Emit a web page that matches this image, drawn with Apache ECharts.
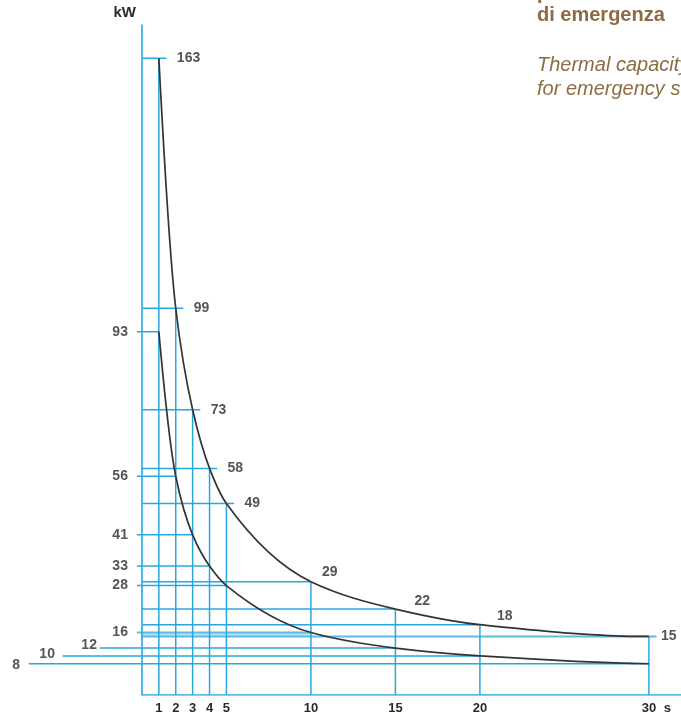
<!DOCTYPE html>
<html>
<head>
<meta charset="utf-8">
<script src="https://cdn.jsdelivr.net/npm/echarts@6/dist/echarts.min.js"></script>
<style>html,body{margin:0;padding:0;background:#fff;}#c{width:681px;height:715px;}</style>
</head>
<body>
<div id="c"></div>
<script>
// ---- data ----
const times = [1, 2, 3, 4, 5, 10, 15, 20, 30];            // s
const upperKW = [163, 99, 73, 58, 49, 29, 22, 18, 15];     // kW, upper curve
const lowerKW = [93, 56, 41, 33, 28, 16, 12, 10, 8];       // kW, lower curve
const xTickLabels = [1, 2, 3, 4, 5, 10, 15, 20, 30];
const titleLines = ['per servizi', 'di emergenza'];
const subtitleLines = ['Thermal capacity', 'for emergency services'];

// ---- style ----
const BLUE = '#27a7df';
const CURVE = '#333333';
const TXT = '#2a2a2a';
const BROWN = '#8d6c44';
const FONT = 'Liberation Sans, Arial, sans-serif';
const X_MIN = -8.4, X_MAX = 31.9;

const chart = echarts.init(document.getElementById('c'), null, {renderer: 'canvas'});

const series = [];
function seg(p1, p2, w, op) {
  series.push({
    type: 'line', data: [p1, p2], symbol: 'none', silent: true,
    lineStyle: {color: BLUE, width: w || 1.5, opacity: op == null ? 1 : op},
    z: 1, animation: false
  });
}
// x base line (from 0)
seg([0, 0], [X_MAX, 0], 1.6);
// guide lines for upper curve
times.forEach((t, i) => {
  const u = upperKW[i];
  const last = i === times.length - 1;
  const ext = (i < 5 || last) ? 0.45 : 0;
  seg([0, u], [t + ext, u], last ? 2 : 1.5, last ? 0.75 : 1);
  seg([t, 0], [t, u]);
});
// guide lines for lower curve
const lowerStart = [-0.3, -0.3, -0.3, -0.3, -0.3, -0.3, -2.5, -4.7, -6.7];
times.forEach((t, i) => {
  const l = lowerKW[i];
  seg([lowerStart[i], l], [t, l], i === 5 ? 2 : 1.5, i === 5 ? 0.75 : 1);
});
// light band between the 15/16 lines
seg([0, 15.5], [10, 15.5], 3, 0.3);

// smooth monotone (Fritsch-Carlson) curve through the data points, drawn in pixel space
function curveSeries(arr) {
  return {
    type: 'custom', silent: true, z: 5, animation: false,
    data: times.map((t, i) => [t, arr[i]]),
    renderItem: function (params, api) {
      if (params.dataIndex !== 0) return null;
      const P = times.map((t, i) => api.coord([t, arr[i]]));
      const n = P.length;
      const h = [], d = [];
      for (let i = 0; i < n - 1; i++) {
        h.push(P[i + 1][0] - P[i][0]);
        d.push((P[i + 1][1] - P[i][1]) / h[i]);
      }
      const m = new Array(n);
      for (let i = 1; i < n - 1; i++) {
        if (d[i - 1] * d[i] <= 0) m[i] = 0;
        else {
          const w1 = 2 * h[i] + h[i - 1], w2 = h[i] + 2 * h[i - 1];
          m[i] = (w1 + w2) / (w1 / d[i - 1] + w2 / d[i]);
        }
      }
      function endSlope(h0, h1, d0, d1) {
        let s = ((2 * h0 + h1) * d0 - h0 * d1) / (h0 + h1);
        if (s * d0 <= 0) s = 0;
        else if (d0 * d1 <= 0 && Math.abs(s) > Math.abs(3 * d0)) s = 3 * d0;
        return s;
      }
      m[0] = endSlope(h[0], h[1], d[0], d[1]);
      m[n - 1] = endSlope(h[n - 2], h[n - 3], d[n - 2], d[n - 3]);
      const children = [];
      for (let i = 0; i < n - 1; i++) {
        const dx = h[i] / 3;
        children.push({
          type: 'bezierCurve',
          shape: {
            x1: P[i][0], y1: P[i][1], x2: P[i + 1][0], y2: P[i + 1][1],
            cpx1: P[i][0] + dx, cpy1: P[i][1] + m[i] * dx,
            cpx2: P[i + 1][0] - dx, cpy2: P[i + 1][1] - m[i + 1] * dx
          },
          style: {stroke: CURVE, lineWidth: 1.7, fill: null}
        });
      }
      return {type: 'group', children: children};
    }
  };
}
series.push(curveSeries(upperKW));
series.push(curveSeries(lowerKW));

// value labels
const lab = {fontFamily: FONT, fontSize: 14, fontWeight: 'bold', color: TXT};
const upLabels = times.map((t, i) => {
  let label;
  if (i < 5) label = {position: 'right', distance: 18};
  else if (i === 5) label = {position: 'right', distance: 0, offset: [11, -10]};
  else if (i === 6) label = {position: 'right', distance: 0, offset: [19, -8]};
  else if (i === 7) label = {position: 'right', distance: 0, offset: [17, -9]};
  else label = {position: 'right', distance: 12};
  return {value: [t, upperKW[i]], name: String(upperKW[i]), label: label};
});
const lowDist = [14, 14, 14, 14, 14, 14, 45, 87, 122];
const lowOff = [0, 0, 0, 0, 0, 0, -3, -2, 1];
const lowLabels = lowerKW.map((l, i) => ({
  value: [0, l], name: String(l),
  label: {position: 'left', distance: lowDist[i], offset: [0, lowOff[i]]}
}));
series.push({
  type: 'scatter', symbolSize: 0, silent: true, z: 10, animation: false,
  data: upLabels.concat(lowLabels),
  label: Object.assign({show: true, formatter: p => p.name}, lab)
});

chart.setOption({
  animation: false,
  grid: {left: 0, right: 0, top: 25, bottom: 18},
  xAxis: {
    type: 'value', min: X_MIN, max: X_MAX,
    axisLine: {show: false},
    axisTick: {show: false}, splitLine: {show: false},
    axisLabel: {
      customValues: xTickLabels.concat([31.1]),
      formatter: v => (v > 30.5 ? 's' : String(v)),
      margin: 7, fontFamily: FONT, fontSize: 13, fontWeight: 'bold', color: TXT
    }
  },
  yAxis: {
    type: 'value', min: 0, max: 171.5,
    axisLine: {show: true, onZero: true, lineStyle: {color: BLUE, width: 1.6}},
    axisTick: {show: false}, splitLine: {show: false}, axisLabel: {show: false},
    name: 'kW', nameLocation: 'end', nameGap: 5,
    nameTextStyle: {fontFamily: FONT, fontSize: 15, fontWeight: 'bold', color: TXT, align: 'right', padding: [0, 6, 0, 0]}
  },
  graphic: [
    {type: 'text', left: 537, top: -17, style: {text: titleLines[0], font: 'bold 20px ' + FONT, fill: BROWN}},
    {type: 'text', left: 537, top: 5, style: {text: titleLines[1], font: 'bold 20px ' + FONT, fill: BROWN}},
    {type: 'text', left: 537, top: 55, style: {text: subtitleLines[0], font: 'italic 20px ' + FONT, fill: BROWN}},
    {type: 'text', left: 537, top: 79, style: {text: subtitleLines[1], font: 'italic 20px ' + FONT, fill: BROWN}}
  ],
  series: series
});
</script>
</body>
</html>
